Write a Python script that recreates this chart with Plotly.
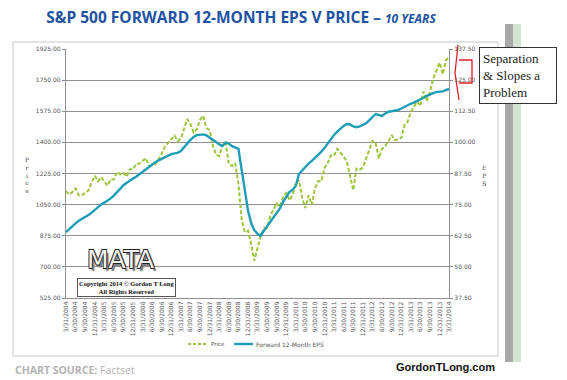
import pandas as pd
import plotly.graph_objects as go

# ---------------- data ----------------
months = pd.date_range("2004-03-31", "2014-03-31", freq="ME")

price = [
    1126, 1107, 1121, 1141, 1102, 1104, 1115, 1130, 1174, 1212,                       # 2004 Mar-Dec
    1181, 1204, 1181, 1157, 1192, 1191, 1234, 1220, 1229, 1207, 1249, 1248,           # 2005
    1280, 1281, 1295, 1311, 1270, 1270, 1277, 1304, 1336, 1378, 1401, 1418,           # 2006
    1438, 1407, 1421, 1482, 1531, 1503, 1455, 1474, 1527, 1549, 1481, 1468,           # 2007
    1379, 1331, 1323, 1386, 1400, 1280, 1267, 1283, 1166, 969, 896, 903,              # 2008
    826, 735, 798, 873, 919, 919, 987, 1021, 1057, 1036, 1096, 1115,                  # 2009
    1074, 1104, 1169, 1187, 1089, 1031, 1102, 1049, 1141, 1183, 1181, 1258,           # 2010
    1286, 1327, 1326, 1364, 1345, 1321, 1292, 1219, 1131, 1253, 1247, 1258,           # 2011
    1312, 1366, 1408, 1398, 1310, 1362, 1379, 1407, 1441, 1412, 1416, 1426,           # 2012
    1498, 1515, 1569, 1598, 1631, 1606, 1686, 1633, 1682, 1757, 1806, 1848,           # 2013
    1783, 1859, 1883,                                                                 # 2014 Jan-Mar
]

eps = [
    64.0, 65.2, 66.5, 67.5, 68.5, 69.2, 70.0, 70.8, 71.8, 73.0,
    74.0, 75.0, 75.8, 76.6, 77.5, 78.6, 80.0, 81.5, 82.8, 83.8, 84.8, 85.5,
    86.3, 87.2, 88.2, 89.2, 90.2, 91.2, 92.0, 92.8, 93.5, 94.2, 94.8, 95.3,
    95.6, 95.8, 96.5, 97.8, 99.5, 101.0, 102.2, 102.9, 103.2, 103.2, 102.8, 102.0,
    101.0, 100.2, 99.2, 98.5, 99.9, 99.5, 98.5, 98.0, 97.4, 89.0, 80.0, 72.5,
    67.4, 64.8, 63.3, 62.5, 64.5, 66.2, 68.0, 69.8, 71.4, 73.5, 76.1, 78.2,
    80.1, 81.0, 82.5, 87.3, 88.8, 90.2, 91.5, 92.6, 93.7, 94.9, 96.3, 97.8,
    99.6, 101.5, 103.0, 104.3, 105.5, 106.6, 107.4, 107.2, 106.4, 106.1, 106.4, 106.9,
    107.7, 108.8, 110.3, 111.4, 111.0, 110.6, 111.6, 112.3, 112.5, 112.7, 113.0, 113.6,
    114.3, 115.0, 115.5, 116.0, 116.6, 117.1, 117.9, 118.7, 119.4, 119.8, 120.2, 120.3,
    120.5, 121.0, 121.5,
]

quarters = pd.date_range("2004-03-31", "2014-03-31", freq="QE")
tick_labels = [f"{d.month}/{d.day}/{d.year}" for d in quarters]

price_ticks = [525, 700, 875, 1050, 1225, 1400, 1575, 1750, 1925]
eps_ticks = [37.5, 50, 62.5, 75, 87.5, 100, 112.5, 125, 137.5]

PRICE_COLOR = "#9DC53C"
EPS_COLOR = "#1E9DB6"

# ---------------- layout helpers ----------------
W, H = 567, 380
PL, PR, PT, PB = 66, 449, 49, 298


def px(x):
    return (x - PL) / (PR - PL)


def py(y):
    return (PB - y) / (PB - PT)


GRID = "#8f8f8f"
TICKFONT = dict(family="DejaVu Sans", size=6, color="#555555")

fig = go.Figure()
fig.add_trace(go.Scatter(
    x=months, y=price, name="Price", mode="lines",
    line=dict(color=PRICE_COLOR, width=2, dash="4px,2px"),
))
fig.add_trace(go.Scatter(
    x=months, y=eps, name="Forward 12-Month EPS", mode="lines", yaxis="y2",
    line=dict(color=EPS_COLOR, width=2.4),
))


def ann(text, x, y, xa="center", ya="middle", **kw):
    return dict(text=text, x=px(x), y=py(y), xref="paper", yref="paper",
                xanchor=xa, yanchor=ya, showarrow=False, **kw)


shapes = [
    # outer chart frame
    dict(type="rect", xref="paper", yref="paper", x0=px(13), x1=px(498), y0=py(42), y1=py(356),
         line=dict(color="#c8c8c8", width=1), fillcolor="rgba(0,0,0,0)", layer="below"),
    # decorative side bars
    dict(type="rect", xref="paper", yref="paper", x0=px(505), x1=px(513), y0=py(24), y1=py(362),
         line=dict(width=0), fillcolor="#a9a9ab", layer="below"),
    dict(type="rect", xref="paper", yref="paper", x0=px(513), x1=px(521), y0=py(24), y1=py(362),
         line=dict(width=0), fillcolor="#d5e3d3", layer="below"),
    # red bracket
    dict(type="path", xref="paper", yref="paper",
         path=(f"M {px(458)},{py(45)} L {px(455)},{py(73)} L {px(459)},{py(100)} "
               f"M {px(459)},{py(60)} L {px(472)},{py(60)} L {px(472)},{py(83)} L {px(459)},{py(83)}"),
         line=dict(color="#e0202a", width=1.3)),
    # manual legend samples
    dict(type="line", xref="paper", yref="paper", x0=px(188), x1=px(206), y0=py(344), y1=py(344),
         line=dict(color=PRICE_COLOR, width=2, dash="3px,2px")),
    dict(type="line", xref="paper", yref="paper", x0=px(234), x1=px(253), y0=py(344), y1=py(344),
         line=dict(color=EPS_COLOR, width=2.4)),
]

annotations = [
    ann("P<br>r<br>i<br>c<br>e", 27, 175, font=dict(family="DejaVu Serif", size=6, color="#444")),
    ann("E<br>P<br>S", 484, 175, font=dict(family="DejaVu Serif", size=6, color="#444")),
    # MATA logo: light letters with dark outline and drop shadow
    ann("MATA", 120, 259, font=dict(
        family="DejaVu Sans", size=25, color="#f2f2f2",
        shadow="0.7px 0.7px 0 #222, -0.7px -0.7px 0 #222, 0.7px -0.7px 0 #222, "
               "-0.7px 0.7px 0 #222, 2.5px 2.5px 1px #777")),
    ann("Copyright 2014 © Gordon T Long<br>All Rights Reserved", 126, 287,
        bgcolor="white", bordercolor="#555", borderwidth=1, borderpad=1,
        font=dict(family="Liberation Serif", size=6.5, color="#111", weight="bold")),
    ann("Separation<br>& Slopes a<br>Problem", 479, 47, xa="left", ya="top", align="left",
        bgcolor="white", bordercolor="#333", borderwidth=1, borderpad=3, width=70,
        font=dict(family="Liberation Serif", size=13, color="#222")),
    ann("Price", 209, 344, xa="left", font=dict(family="DejaVu Sans", size=5.5, color="#555")),
    ann("Forward 12-Month EPS", 254, 344, xa="left", font=dict(family="DejaVu Sans", size=6, color="#555")),
    ann("<b>CHART SOURCE:</b> Factset", 13, 370, xa="left",
        font=dict(family="Open Sans", size=10.5, color="#b3b3b3")),
    ann("<b>GordonTLong.com</b>", 497, 367, xa="right",
        font=dict(family="Liberation Sans", size=11, color="#111")),
]

fig.update_layout(
    width=W, height=H,
    margin=dict(l=PL, r=W - PR, t=PT, b=H - PB, pad=0),
    paper_bgcolor="white", plot_bgcolor="white",
    showlegend=False,
    title=dict(
        text="<b>S&P 500 FORWARD 12-MONTH EPS V PRICE – <i><span style='font-size:12px'>10 YEARS</span></i></b>",
        x=241 / W, xanchor="center", xref="container",
        y=1 - 18 / H, yanchor="middle", yref="container",
        font=dict(family="Open Sans", size=15.5, color="#2152A2"),
    ),
    xaxis=dict(
        type="date", range=[months[0], months[-1]],
        tickvals=quarters, ticktext=tick_labels, tickangle=-90,
        tickfont=TICKFONT, showgrid=False, showline=True, linecolor=GRID, linewidth=1.3,
        ticks="", zeroline=False,
    ),
    yaxis=dict(
        range=[525, 1925], tickvals=price_ticks, tickformat=".2f", tickfont=TICKFONT,
        showgrid=True, gridcolor=GRID, gridwidth=1.3, showline=True, linecolor=GRID, linewidth=1.3,
        ticks="outside", ticklen=3, tickcolor=GRID, zeroline=False,
    ),
    yaxis2=dict(
        range=[37.5, 137.5], tickvals=eps_ticks, tickformat=".2f", tickfont=TICKFONT,
        overlaying="y", side="right", showgrid=False, showline=True, linecolor=GRID, linewidth=1.3,
        ticks="outside", ticklen=3, tickcolor=GRID, zeroline=False,
    ),
    shapes=shapes,
    annotations=annotations,
)

fig.write_html("out.html", config={"displayModeBar": False},
               post_script="document.body.style.margin='0';")
